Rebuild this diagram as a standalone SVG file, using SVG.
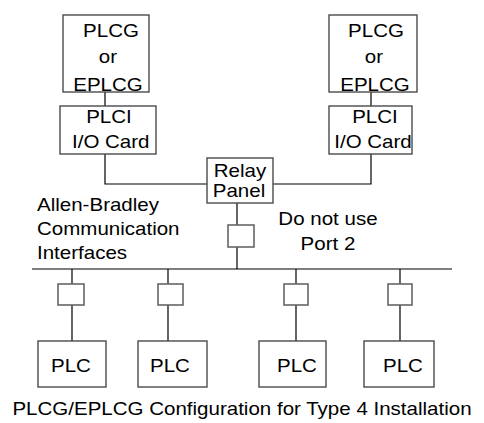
<svg xmlns="http://www.w3.org/2000/svg" width="484" height="423" viewBox="0 0 484 423">
<defs>
<style>
.box{fill:#fff;stroke:#4a4a4a;stroke-width:1.4}
.port{fill:#fff;stroke:#666;stroke-width:1.6}
.ln{fill:none;stroke:#000;stroke-width:1.2}
text{font-family:"Liberation Sans",Arial,sans-serif;font-size:18px;fill:#000;transform:scaleX(1.14);transform-box:fill-box;transform-origin:center}
.c{text-anchor:middle}
.l{text-anchor:start;transform-origin:left center}
</style>
<clipPath id="clipL"><rect x="60" y="106" width="91.5" height="48"/></clipPath>
</defs>
<rect width="484" height="423" fill="#fff"/>
<g id="connectors">
<path class="ln" d="M105 92V106M105 154V184H207M371 92V106M371 154V184H273M237 203V225M237 247V269M32 269H452M72 269V284M72 305V341M168 269V284M168 305V341M296 269V284M296 305V341M400 269V284M400 305V341"/>
</g>
<g id="plcg-left">
<rect class="box" x="63" y="15" width="86" height="77"/>
<text class="c" x="111" y="37">PLCG</text>
<text class="c" x="108" y="63">or</text>
<text class="c" x="108" y="91">EPLCG</text>
</g>
<g id="plci-left">
<rect class="box" x="60" y="106" width="96" height="48"/>
<text class="c" x="109" y="123">PLCI</text>
<g clip-path="url(#clipL)"><text class="l" x="72" y="148">I/O Card</text></g>
</g>
<g id="plcg-right">
<rect class="box" x="329" y="15" width="88" height="77"/>
<text class="c" x="376" y="37">PLCG</text>
<text class="c" x="374" y="63">or</text>
<text class="c" x="375" y="91">EPLCG</text>
</g>
<g id="plci-right">
<rect class="box" x="329" y="106" width="83" height="48"/>
<text class="c" x="375" y="123">PLCI</text>
<text class="c" x="373" y="148">I/O Card</text>
</g>
<g id="relay-panel">
<rect class="box" x="207" y="158" width="66" height="45"/>
<text class="c" x="240" y="177">Relay</text>
<text class="c" x="239" y="197">Panel</text>
</g>
<g id="port-relay"><rect class="port" x="228" y="225" width="26" height="22"/></g>
<g id="port-1"><rect class="port" x="58" y="284" width="26" height="21"/></g>
<g id="port-2"><rect class="port" x="158" y="284" width="25" height="21"/></g>
<g id="port-3"><rect class="port" x="284" y="284" width="24" height="21"/></g>
<g id="port-4"><rect class="port" x="388" y="284" width="24" height="21"/></g>
<g id="plc-1"><rect class="box" x="38" y="341" width="68" height="46"/><text class="c" x="71" y="372">PLC</text></g>
<g id="plc-2"><rect class="box" x="138" y="341" width="69" height="46"/><text class="c" x="170" y="372">PLC</text></g>
<g id="plc-3"><rect class="box" x="259" y="341" width="67" height="46"/><text class="c" x="297" y="372">PLC</text></g>
<g id="plc-4"><rect class="box" x="364" y="341" width="70" height="46"/><text class="c" x="403" y="372">PLC</text></g>
<g id="label-ab">
<text class="l" x="37" y="211">Allen-Bradley</text>
<text class="l" x="37" y="235">Communication</text>
<text class="l" x="37" y="259">Interfaces</text>
</g>
<g id="label-port">
<text class="c" x="328" y="225">Do not use</text>
<text class="c" x="328" y="250">Port 2</text>
</g>
<g id="caption"><text class="c" x="242" y="415">PLCG/EPLCG Configuration for Type 4 Installation</text></g>
</svg>
